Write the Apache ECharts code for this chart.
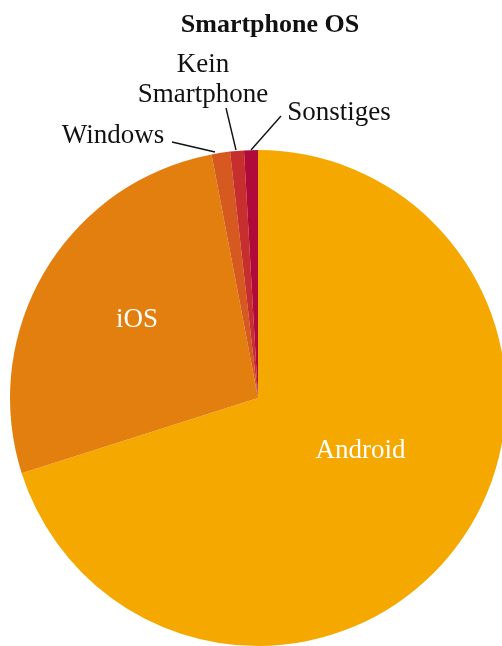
<!DOCTYPE html>
<html><head><meta charset="utf-8">
<script src="https://cdn.jsdelivr.net/npm/echarts@6/dist/echarts.min.js"></script>
<style>html,body{margin:0;padding:0;background:#fff}#c{width:502px;height:646px}</style>
</head><body><div id="c"></div>
<script>
const titleText = 'Smartphone OS';
const categories = ['Android', 'iOS', 'Windows', 'Kein\nSmartphone', 'Sonstiges'];
const shares = [70.1, 26.9, 1.2, 0.9, 0.9];
const colors = ['#F5A800', '#E27F0E', '#D65A1F', '#C62F2E', '#B00A3B'];
const insideLabels = [true, true, false, false, false];

// label placement tweaks (layout only)
const labelPos = [
  {dx: 0, dy: -22},
  {dx: -12, dy: -13},
  {x: 113, y: 136, line: [[172, 142], [215, 152]]},
  {x: 203, y: 80, line: [[226, 108], [236, 150]]},
  {x: 339, y: 113, line: [[281, 116], [251, 150]]}
];

const FONT = '"Liberation Serif", "DejaVu Serif", serif';
const chart = echarts.init(document.getElementById('c'), null, {renderer: 'canvas'});
chart.setOption({
  animation: false,
  title: {
    text: titleText, left: 265, top: 7, textAlign: 'center',
    textStyle: {fontFamily: FONT, fontWeight: 'bold', fontSize: 26, color: '#111'}
  },
  series: [{
    type: 'pie',
    center: [258, 398],
    radius: 248,
    startAngle: 90,
    clockwise: true,
    avoidLabelOverlap: false,
    data: categories.map((c, i) => ({
      name: c, value: shares[i],
      itemStyle: {color: colors[i]},
      label: insideLabels[i]
        ? {position: 'inside', color: '#fff'}
        : {position: 'outside', color: '#111'},
      labelLine: {show: !insideLabels[i], length: 20, length2: 0, lineStyle: {color: '#111', width: 1.4}}
    })),
    label: {formatter: '{b}', fontFamily: FONT, fontSize: 27, lineHeight: 30},
    labelLayout: function (p) {
      const o = labelPos[p.dataIndex];
      const r = {};
      if (o.x !== undefined) {
        r.x = o.x; r.y = o.y; r.align = 'center'; r.verticalAlign = 'middle';
        r.labelLinePoints = [o.line[0], o.line[1], o.line[1]];
      } else { r.dx = o.dx; r.dy = o.dy; }
      return r;
    }
  }]
});
</script></body></html>
